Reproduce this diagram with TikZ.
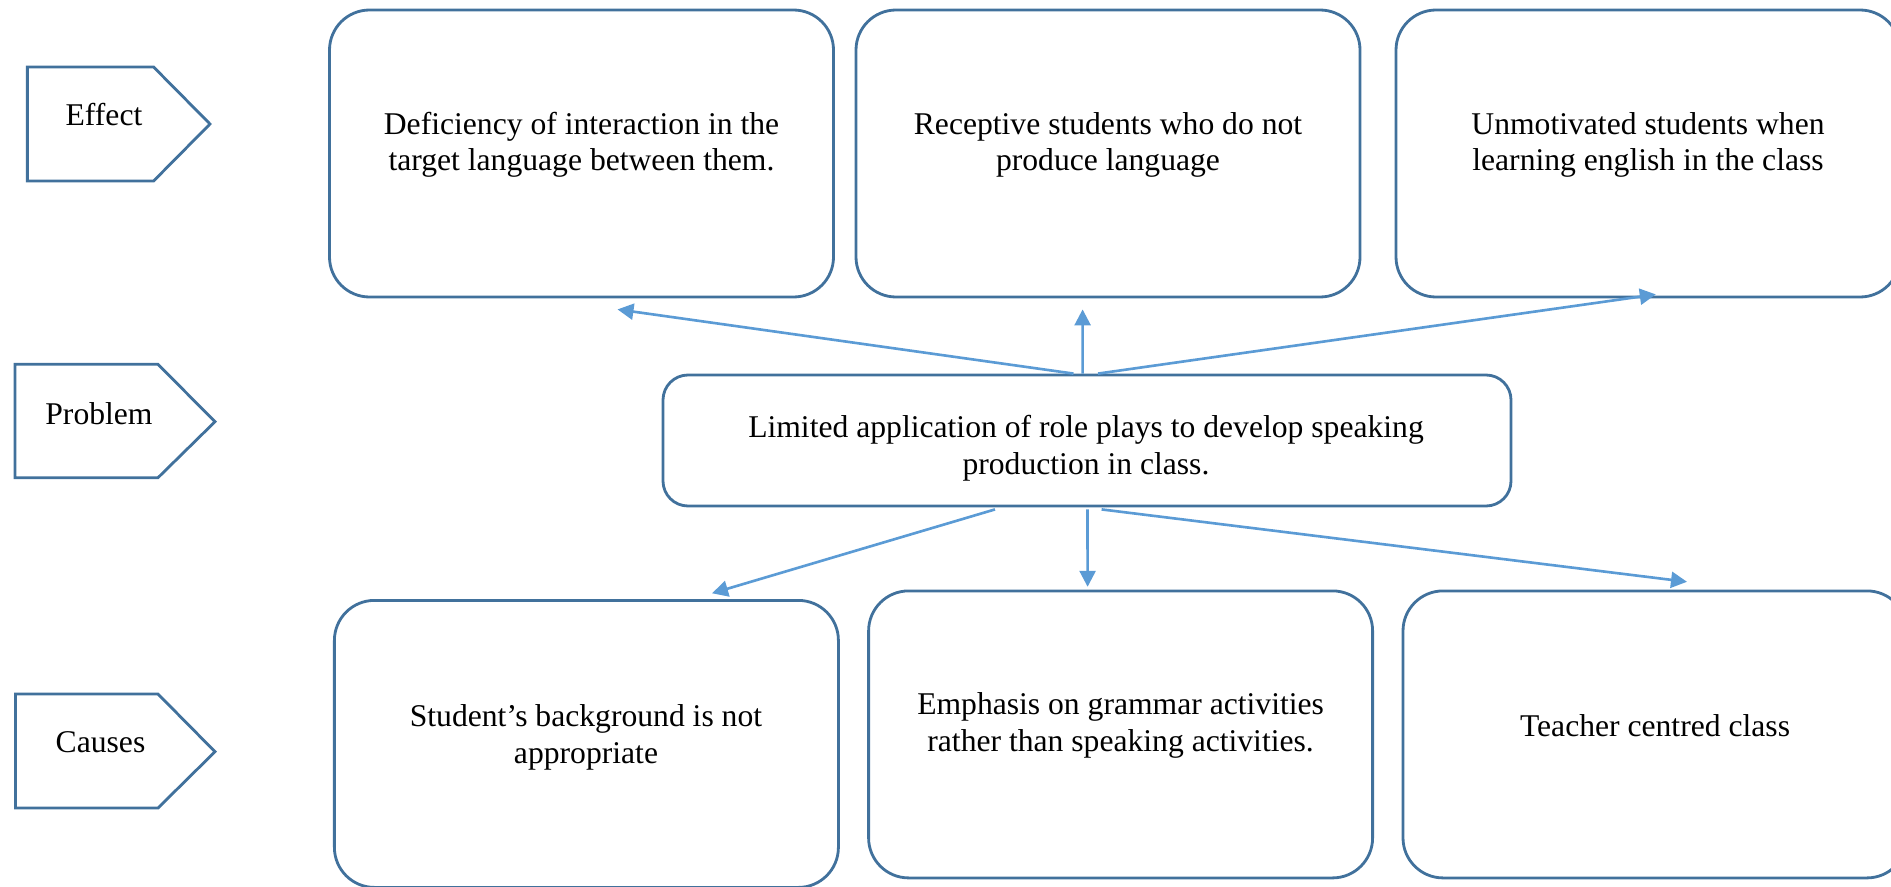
\documentclass[tikz,border=0pt]{standalone}
\usepackage{fontspec}
\setmainfont{Liberation Serif}
\usetikzlibrary{arrows.meta}
\definecolor{edgeblue}{RGB}{65,113,156}
\definecolor{arrowblue}{RGB}{91,155,213}
\tikzstyle{bx}=[draw=edgeblue,line width=0.8pt,rounded corners=0.4cm,minimum width=5.04cm,minimum height=2.87cm,inner sep=0pt]
\tikzstyle{tag}=[draw=edgeblue,line width=0.8pt]
\tikzstyle{txt}=[align=center,inner sep=0pt,font=\fontsize{9}{10.4}\selectfont]
\tikzstyle{lnk}=[draw=arrowblue,line width=0.75pt,-{Triangle[length=0.16cm,width=0.16cm]}]

\begin{document}
\begin{tikzpicture}
\useasboundingbox (0,0) rectangle (18.91,-8.86);
% left tags
\draw[tag] (0.274,-0.67) -- (1.536,-0.67) -- (2.10,-1.24) -- (1.536,-1.81) -- (0.274,-1.81) -- cycle;
\draw[tag] (0.15,-3.643) -- (1.58,-3.643) -- (2.15,-4.217) -- (1.58,-4.777) -- (0.15,-4.777) -- cycle;
\draw[tag] (0.155,-6.94) -- (1.58,-6.94) -- (2.15,-7.517) -- (1.58,-8.08) -- (0.155,-8.08) -- cycle;
\node[txt] (teff) at (1.04,-1.15) {Effect};
\node[txt] (tprob) at (0.99,-4.14) {Problem};
\node[txt] (tcau) at (1.005,-7.417) {Causes};
% effects
\node[bx] (eff1) at (5.815,-1.535) {};
\node[bx] (eff2) at (11.08,-1.535) {};
\node[bx] (eff3) at (16.48,-1.535) {};
\node[txt] (teff1) at (5.815,-1.447) {Deficiency of interaction in the\\target language between them.};
\node[txt] (teff2) at (11.08,-1.45) {Receptive students who do not\\produce language};
\node[txt] (teff3) at (16.48,-1.45) {Unmotivated students when\\learning english in the class};
% problem
\node[bx,rounded corners=0.25cm,minimum width=8.48cm,minimum height=1.31cm] (prob) at (10.87,-4.405) {};
\node[txt] (tprobbox) at (10.86,-4.483) {Limited application of role plays to develop speaking\\production in class.};
% causes
\node[bx] (cau1) at (5.864,-7.439) {};
\node[bx] (cau2) at (11.206,-7.344) {};
\node[bx] (cau3) at (16.55,-7.344) {};
\node[txt] (tcau1) at (5.86,-7.375) {Student’s background is not\\appropriate};
\node[txt] (tcau2) at (11.206,-7.255) {Emphasis on grammar activities\\rather than speaking activities.};
\node[txt] (tcau3) at (16.55,-7.257) {Teacher centred class};
% arrows
\draw[lnk] ([xshift=-0.135cm]prob.north) -- ([xshift=0.36cm,yshift=-0.11cm]eff1.south);
\draw[lnk] ([xshift=-0.044cm]prob.north) -- ([xshift=-0.254cm,yshift=-0.11cm]eff2.south);
\draw[lnk] ([xshift=0.11cm]prob.north) -- ([xshift=0.078cm,yshift=0.04cm]eff3.south);
\draw[lnk] ([xshift=-0.92cm,yshift=-0.02cm]prob.south) -- ([xshift=1.256cm,yshift=0.057cm]cau1.north);
\draw[lnk] ([xshift=0.005cm,yshift=-0.02cm]prob.south) -- ([xshift=-0.33cm,yshift=0.027cm]cau2.north);
\draw[lnk] ([xshift=0.146cm,yshift=-0.02cm]prob.south) -- ([xshift=0.32cm,yshift=0.077cm]cau3.north);
\end{tikzpicture}
\end{document}
